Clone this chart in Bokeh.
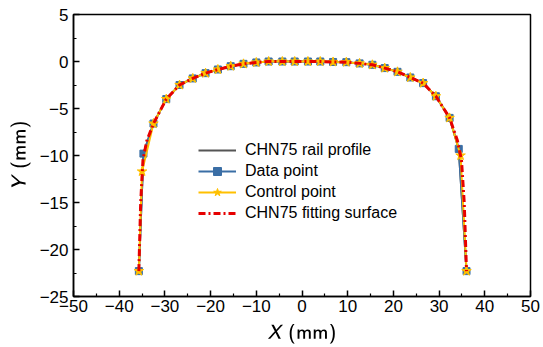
from bokeh.plotting import figure
from bokeh.models import Range1d, FixedTicker, Legend, LegendItem, CustomJSTickFormatter
from bokeh.embed import file_html
from bokeh.resources import INLINE

# Data
data_x = [-35.7, -34.7, -32.5, -29.7, -26.8, -23.9, -21.1, -18.4, -15.6, -12.8, -10.0, -7.3,
          -4.3, -1.6, 1.3, 4.0, 6.8, 9.7, 12.6, 15.4, 18.1, 20.9, 23.7, 26.5, 29.3, 32.3, 34.3, 36.0]
data_y = [-22.3, -9.8, -6.6, -4.0, -2.5, -1.8, -1.24, -0.85, -0.5, -0.25, -0.1, 0.0,
          0.0, 0.0, 0.0, 0.0, -0.05, -0.07, -0.2, -0.35, -0.7, -1.1, -1.7, -2.3, -3.7, -6.0, -9.3, -22.3]

ctrl_x = [-35.7, -35.0, -32.5, -29.7, -26.8, -23.9, -21.1, -18.4, -15.6, -12.8, -10.0, -7.3,
          -4.3, -1.6, 1.3, 4.0, 6.8, 9.7, 12.6, 15.4, 18.1, 20.9, 23.7, 26.5, 29.3, 32.3, 34.7, 36.0]
ctrl_y = [-22.3, -11.7, -6.6, -4.0, -2.5, -1.8, -1.24, -0.85, -0.5, -0.25, -0.1, 0.0,
          0.0, 0.0, 0.0, 0.0, -0.05, -0.07, -0.2, -0.35, -0.7, -1.1, -1.7, -2.3, -3.7, -6.0, -10.0, -22.3]

profile_x = data_x
profile_y = data_y
fit_x = [-35.7, -35.3, -34.8, -34.0, -32.5, -29.7, -26.8, -23.9, -21.1, -18.4, -15.6, -12.8, -10.0, -7.3,
         -4.3, -1.6, 1.3, 4.0, 6.8, 9.7, 12.6, 15.4, 18.1, 20.9, 23.7, 26.5, 29.3, 32.3, 34.0, 34.9, 35.5, 36.0]
fit_y = [-22.3, -15.0, -10.5, -8.5, -6.6, -4.0, -2.5, -1.8, -1.24, -0.85, -0.5, -0.25, -0.1, 0.0,
         0.0, 0.0, 0.0, 0.0, -0.05, -0.07, -0.2, -0.35, -0.7, -1.1, -1.7, -2.3, -3.7, -6.0, -8.4, -10.5, -15.0, -22.3]

x_ticks = [-50, -40, -30, -20, -10, 0, 10, 20, 30, 40, 50]
y_ticks = [-25, -20, -15, -10, -5, 0, 5]
labels = ["CHN75 rail profile", "Data point", "Control point", "CHN75 fitting surface"]
x_label = ["X", "(mm)"]
y_label = ["Y", "(mm)"]

FONT = "Liberation Sans"

p = figure(width=543, height=347, output_backend="svg", toolbar_location=None,
           x_range=Range1d(-50, 50), y_range=Range1d(-25, 5),
           min_border_left=73, min_border_right=13, min_border_top=14, min_border_bottom=51)
p.grid.visible = False
p.outline_line_color = "black"
p.outline_line_width = 1.5
p.background_fill_color = "white"
p.border_fill_color = "white"

minus_fmt = CustomJSTickFormatter(code="return String(Math.round(tick)).replace('-', '\\u2212');")
for ax, ticks, lab in ((p.xaxis[0], x_ticks, x_label), (p.yaxis[0], y_ticks, y_label)):
    ax.ticker = FixedTicker(ticks=ticks,
                            minor_ticks=[t + (ticks[1] - ticks[0]) / 2 for t in ticks[:-1]])
    ax.formatter = minus_fmt
    ax.axis_line_width = 1.5
    ax.axis_line_color = "black"
    ax.major_tick_in = 6
    ax.major_tick_out = 0
    ax.minor_tick_in = 3
    ax.minor_tick_out = 0
    ax.major_tick_line_width = 1.5
    ax.minor_tick_line_width = 1.2
    ax.major_label_text_font = FONT
    ax.major_label_text_font_size = "17px"
    ax.major_label_text_color = "black"
    ax.axis_label = "\\(\\mathsfit{" + lab[0] + "}\\textsf{ " + lab[1] + "}\\)"
    ax.axis_label_text_font_size = "17px"
    ax.axis_label_text_color = "black"

p.xaxis.major_label_standoff = 3
p.yaxis.major_label_standoff = 5
p.yaxis.axis_label_standoff = 6
p.xaxis.axis_label_standoff = 9

r_prof = p.line(profile_x, profile_y, line_color="#555555", line_width=2)
r_dl = p.line(data_x, data_y, line_color="#3a6ea5", line_width=2)
r_ds = p.scatter(data_x, data_y, marker="square", size=7, fill_color="#3a6ea5", line_color="#3a6ea5")
r_cl = p.line(ctrl_x, ctrl_y, line_color="#ffc000", line_width=2)
r_cs = p.scatter(ctrl_x, ctrl_y, marker="star", size=10, fill_color="#ffc000", line_color="#ffc000")
r_fit = p.line(fit_x, fit_y, line_color="#e60000", line_width=3, line_dash="7 3 2 3")

legend = Legend(items=[
    LegendItem(label=labels[0], renderers=[r_prof]),
    LegendItem(label=labels[1], renderers=[r_dl, r_ds]),
    LegendItem(label=labels[2], renderers=[r_cl, r_cs]),
    LegendItem(label=labels[3], renderers=[r_fit]),
], location=(125, 73))
legend.background_fill_alpha = 0
legend.border_line_alpha = 0
legend.padding = 0
legend.margin = 0
legend.spacing = 1
legend.glyph_width = 38
legend.glyph_height = 20
legend.label_height = 20
legend.label_standoff = 9
legend.label_text_font = FONT
legend.label_text_font_size = "16px"
legend.label_text_color = "black"
p.add_layout(legend, "center")

open("out.html", "w").write(file_html(p, INLINE))
